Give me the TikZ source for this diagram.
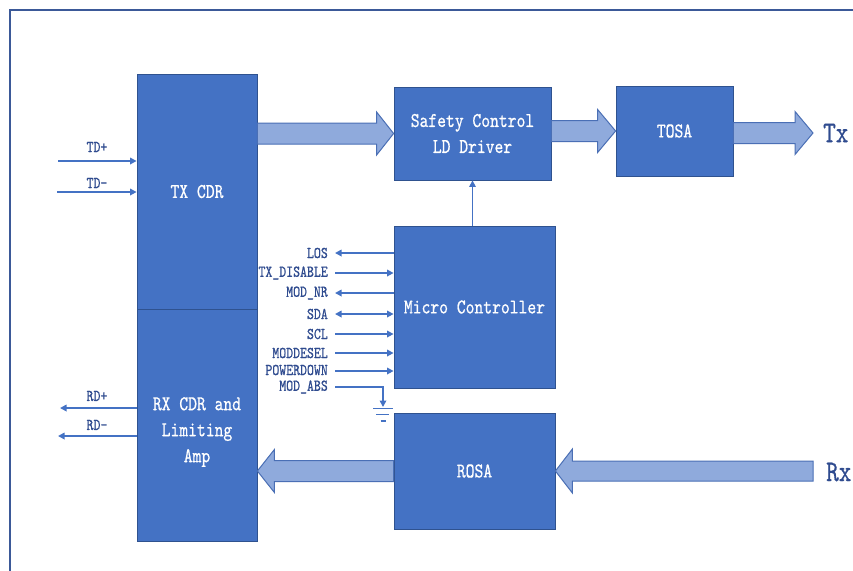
\documentclass[tikz,border=0pt]{standalone}
\usepackage{fontspec}
\newfontfamily\dfont{lmmono10-regular.otf}[FakeStretch=0.8,FakeBold=0.6]
\usetikzlibrary{calc,arrows.meta}
\definecolor{boxfill}{HTML}{4472C4}
\definecolor{boxline}{HTML}{2F528F}
\definecolor{arrfill}{HTML}{8FAADC}
\definecolor{arrline}{HTML}{4A6FB5}
\definecolor{linec}{HTML}{4472C4}
\definecolor{lblc}{HTML}{2F4B8F}
\definecolor{framec}{HTML}{3B5998}
\newcommand\blockarr[5]{% start, tip, shaft half, head half, head length (signed)
  \draw[barr] let \p1=#1, \p2=#2 in
    (\x1,\y2+#3) -- (\x2-#5,\y2+#3) -- (\x2-#5,\y2+#4) -- (\x2,\y2) --
    (\x2-#5,\y2-#4) -- (\x2-#5,\y2-#3) -- (\x1,\y2-#3) -- cycle;}
\begin{document}
\begin{tikzpicture}[x=1pt,y=-1pt,
  box/.style={draw=boxline, line width=0.8pt, fill=boxfill, text=white,
    font=\dfont\fontsize{21}{26}\selectfont, align=center, inner sep=0pt},
  boxtext/.style={text=white, font=\dfont\fontsize{21}{26}\selectfont, align=center, inner sep=0pt},
  barr/.style={draw=arrline, line width=1pt, fill=arrfill},
  sig/.style={draw=linec, line width=1.6pt, -{Triangle[length=6.5pt,width=6.5pt]}},
  sigl/.style={draw=linec, line width=1.6pt, {Triangle[length=6.5pt,width=6.5pt]}-},
  sigb/.style={draw=linec, line width=1.6pt, {Triangle[length=6.5pt,width=6.5pt]}-{Triangle[length=6.5pt,width=6.5pt]}},
  lbl/.style={text=lblc, font=\dfont\fontsize{16.5}{18}\selectfont, inner sep=0pt},
  big/.style={text=lblc, font=\dfont\fontsize{30}{32}\selectfont, inner sep=0pt},
  frame/.style={draw=framec, line width=1.8pt}]
\useasboundingbox (0,0) rectangle (853,570);
\fill[white] (0,0) rectangle (853,570);
\draw[frame] (10,575) -- (10,10) -- (858,10);

% boxes
\node[box, minimum width=120pt, minimum height=235pt] (txcdr) at (197,191.5) {TX CDR};
\node[box, minimum width=120pt, minimum height=232pt] (rxcdr) at (197,425) {};
\node[boxtext] (rxtext) at (197,432) {RX CDR and\\Limiting\\Amp};
\node[box, minimum width=157pt, minimum height=93pt] (safety) at (472.5,133.5) {Safety Control\\LD Driver};
\node[box, minimum width=117pt, minimum height=90pt] (tosa) at (674.5,131) {TOSA};
\node[box, minimum width=161pt, minimum height=162pt] (micro) at (474.5,307) {Micro Controller};
\node[box, minimum width=161pt, minimum height=116pt] (rosa) at (474.5,471) {ROSA};

% Tx / Rx
\node[big, anchor=west] (tx) at (823,133) {Tx};
\node[big, anchor=west] (rx) at (826,472) {Rx};
\coordinate (txtip) at (813,133);
\coordinate (rxstart) at (813,472);

% block arrows
\blockarr{(txcdr.east)}{(safety.west)}{10.5pt}{21.5pt}{17pt}
\blockarr{(safety.east)}{(tosa.west)}{10.5pt}{21.5pt}{18pt}
\blockarr{(tosa.east)}{(txtip)}{10.5pt}{21.5pt}{18pt}
\blockarr{(rxstart)}{(rosa.east)}{10pt}{22pt}{-17pt}
\blockarr{(rosa.west)}{(rxcdr.east |- rosa.west)}{10.5pt}{21.5pt}{-17pt}

% TD / RD
\coordinate (tdp) at (58,161);
\coordinate (tdm) at (57,192);
\coordinate (rdp) at (60,408);
\coordinate (rdm) at (58,436);
\draw[sig] (tdp) -- (tdp -| txcdr.west);
\draw[sig] (tdm) -- (tdm -| txcdr.west);
\draw[sig] (rdp -| rxcdr.west) -- (rdp);
\draw[sig] (rdm -| rxcdr.west) -- (rdm);
\node[lbl] (ltdp) at (97,147) {TD+};
\node[lbl] (ltdm) at (97,183) {TD\textendash};
\node[lbl] (lrdp) at (97,396) {RD+};
\node[lbl] (lrdm) at (97,425) {RD\textendash};

% micro -> safety
\draw[sig, line width=1.2pt] (safety.south |- micro.north) -- (safety.south);

% signals
\coordinate (s1) at (335,253);
\coordinate (s2) at (335,273);
\coordinate (s3) at (335,293);
\coordinate (s4) at (335,314);
\coordinate (s5) at (335,334);
\coordinate (s6) at (335,353);
\coordinate (s7) at (335,371);
\coordinate (s8) at (335,387);
\node[lbl, anchor=east] (l1) at (328,253) {LOS};
\node[lbl, anchor=east] (l2) at (328,273) {TX\_DISABLE};
\node[lbl, anchor=east] (l3) at (328,293) {MOD\_NR};
\node[lbl, anchor=east] (l4) at (328,314) {SDA};
\node[lbl, anchor=east] (l5) at (328,334) {SCL};
\node[lbl, anchor=east] (l6) at (328,353) {MODDESEL};
\node[lbl, anchor=east] (l7) at (328,370) {POWERDOWN};
\node[lbl, anchor=east] (l8) at (328,387) {MOD\_ABS};
\draw[sigl] (s1) -- (s1 -| micro.west);
\draw[sig] (s2) -- (s2 -| micro.west);
\draw[sigl] (s3) -- (s3 -| micro.west);
\draw[sigb] (s4) -- (s4 -| micro.west);
\draw[sig] (s5) -- (s5 -| micro.west);
\draw[sig] (s6) -- (s6 -| micro.west);
\draw[sig] (s7) -- (s7 -| micro.west);
\coordinate (gnd) at (383,407);
\draw[sig] (s8) -| (gnd);
\draw[draw=linec, line width=1.6pt] (373,408.5) -- (393,408.5);
\draw[draw=linec, line width=1.6pt] (376,414.5) -- (389,414.5);
\draw[draw=linec, line width=2.2pt] (380.5,421) -- (385.5,421);
\end{tikzpicture}
\end{document}
